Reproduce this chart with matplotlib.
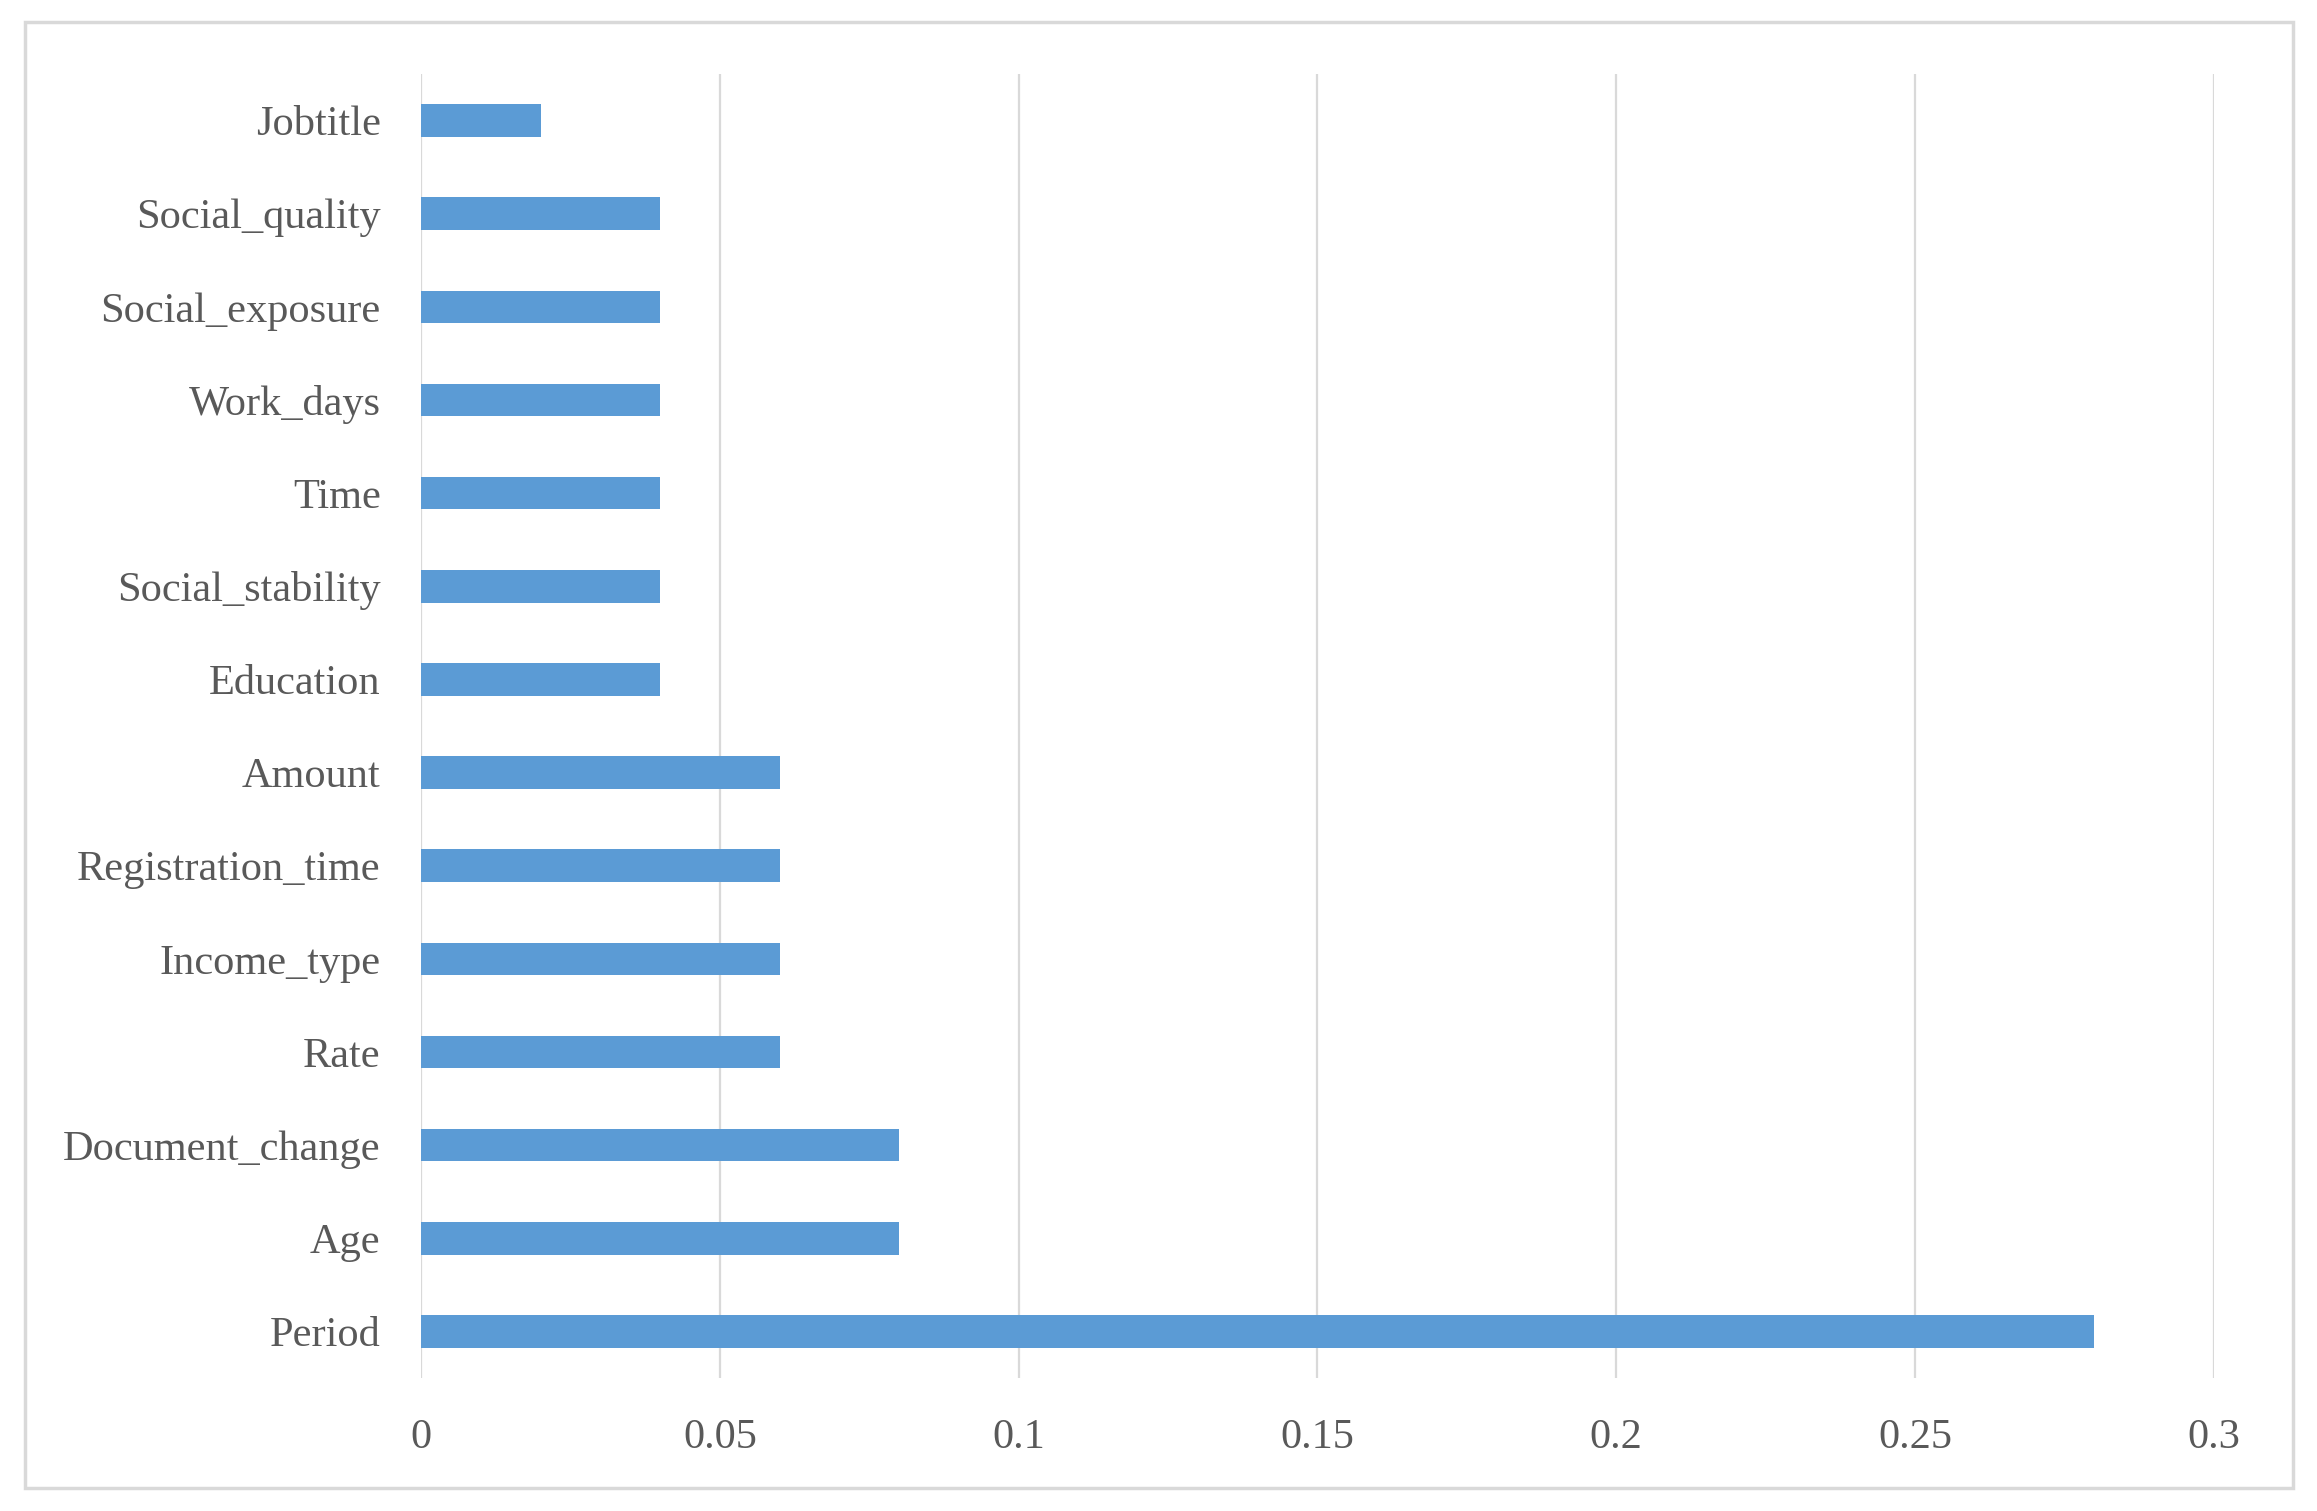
import matplotlib.pyplot as plt
from matplotlib.patches import Rectangle

# feature importances, top to bottom as in the chart
features = ["Jobtitle", "Social_quality", "Social_exposure", "Work_days", "Time",
            "Social_stability", "Education", "Amount", "Registration_time",
            "Income_type", "Rate", "Document_change", "Age", "Period"]
importance = [0.02, 0.04, 0.04, 0.04, 0.04, 0.04, 0.04, 0.06, 0.06, 0.06, 0.06,
              0.08, 0.08, 0.28]
xticks = [0, 0.05, 0.1, 0.15, 0.2, 0.25, 0.3]
xticklabels = ["0", "0.05", "0.1", "0.15", "0.2", "0.25", "0.3"]

plt.rcParams['font.family'] = ['Liberation Serif', 'DejaVu Serif']
text_color = "#595959"
grid_color = "#D9D9D9"

fig = plt.figure(figsize=(23.17, 15.11), dpi=100)
ax = fig.add_axes([0.1817, 1 - 1378 / 1511, 0.9555 - 0.1817, (1378 - 74) / 1511])

ypos = list(range(len(features)))
ax.barh(ypos, importance, height=0.35, color="#5B9BD5", zorder=3)
ax.set_ylim(len(features) - 0.5, -0.5)
ax.set_xlim(0, 0.3)
ax.set_yticks(ypos)
ax.set_yticklabels(features, fontsize=30.5, color=text_color)
ax.set_xticks(xticks)
ax.set_xticklabels(xticklabels, fontsize=30.5, color=text_color)
ax.tick_params(axis='both', length=0)
ax.tick_params(axis='y', pad=29)
ax.tick_params(axis='x', pad=29)
ax.grid(axis='x', color=grid_color, linewidth=1.6, zorder=0)
for s in ax.spines.values():
    s.set_visible(False)

# outer frame
fig.patches.append(Rectangle((25 / 2317, 1 - 1488 / 1511), (2293 - 25) / 2317,
                             (1488 - 22) / 1511, transform=fig.transFigure,
                             fill=False, edgecolor=grid_color, linewidth=2.5))

fig.savefig("out.png", dpi=100)
